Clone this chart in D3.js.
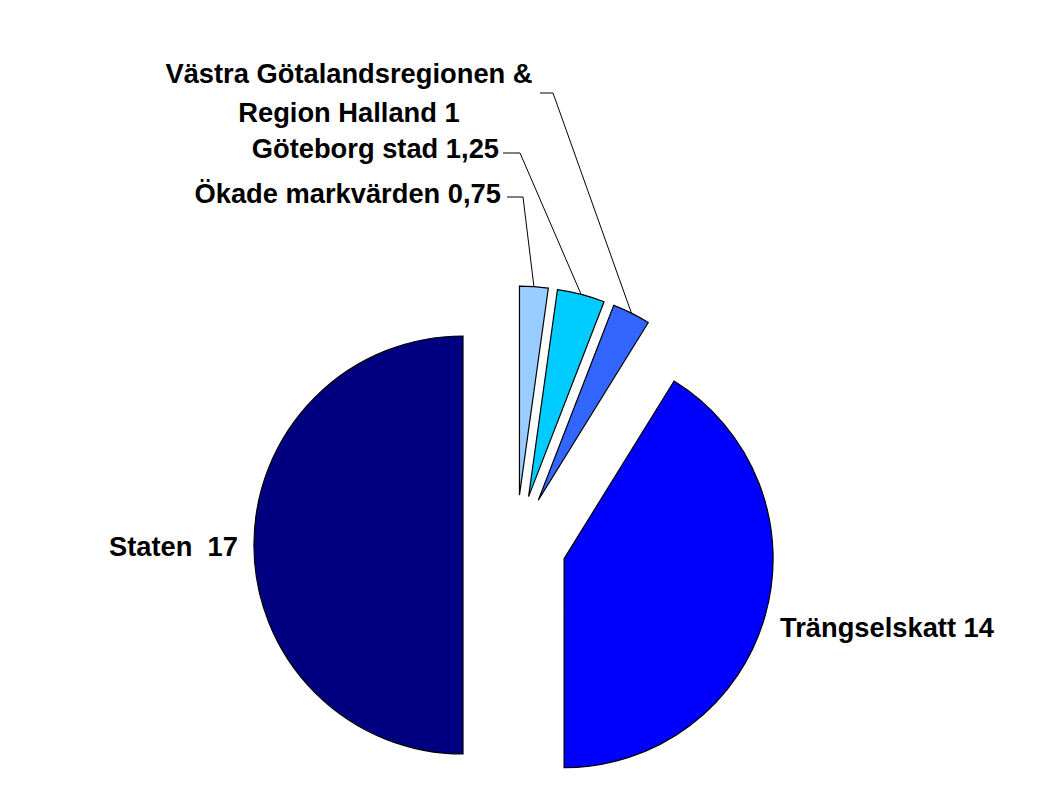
<!DOCTYPE html>
<html>
<head>
<meta charset="utf-8">
<script src="https://cdn.jsdelivr.net/npm/d3@7"></script>
<style>
  html, body { margin: 0; padding: 0; background: #ffffff; }
  svg { display: block; }
  text { font-family: "Liberation Sans", Arial, sans-serif; font-weight: bold; font-size: 27.3px; fill: #000; white-space: pre; }
</style>
</head>
<body>
<svg id="chart" width="1053" height="796"></svg>
<script>
// ---- data ----
const categories = ["Ökade markvärden", "Göteborg stad", "Västra Götalandsregionen & Region Halland", "Trängselskatt", "Staten"];
const values = [0.75, 1.25, 1, 14, 17];
const labelLines = [
  ["Ökade markvärden 0,75"],
  ["Göteborg stad 1,25"],
  ["Västra Götalandsregionen &", "Region Halland 1"],
  ["Trängselskatt 14"],
  ["Staten  17"]
];
const colors = ["#99CCFF", "#00CCFF", "#3366FF", "#0000FF", "#000080"];

// ---- layout ----
const cx = 516, cy = 545, R = 209;
const explode = [50, 50, 50, 50, 53];
const labelPos = [
  { x: 501, y: 203, anchor: "end" },
  { x: 499, y: 158, anchor: "end" },
  { x: 349, y: 83, anchor: "middle", lh: 39 },
  { x: 780, y: 637, anchor: "start" },
  { x: 238, y: 556, anchor: "end" }
];
// leader lines: [start x, elbow x, y]; null = none
const leaders = [
  [507, 523, 197],
  [503, 520, 153],
  [540, 553, 93],
  null,
  null
];

const svg = d3.select("#chart");
const pie = d3.pie().sort(null).startAngle(0).endAngle(2 * Math.PI);
const arcs = pie(values);
const arc = d3.arc().innerRadius(0).outerRadius(R);
const rimArc = d3.arc().innerRadius(R).outerRadius(R);

const g = svg.append("g").attr("transform", `translate(${cx},${cy})`);

function offset(d, i) {
  const mid = (d.startAngle + d.endAngle) / 2;
  return [explode[i] * Math.sin(mid), -explode[i] * Math.cos(mid)];
}

g.selectAll("path.slice")
  .data(arcs)
  .enter()
  .append("path")
  .attr("class", "slice")
  .attr("d", arc)
  .attr("transform", (d, i) => { const o = offset(d, i); return `translate(${o[0]},${o[1]})`; })
  .attr("fill", (d, i) => colors[i])
  .attr("stroke", "#000")
  .attr("stroke-width", 1.2)
  .attr("stroke-linejoin", "miter");

// leader lines
arcs.forEach((d, i) => {
  const L = leaders[i];
  if (!L) return;
  const o = offset(d, i);
  const c = rimArc.centroid(d);
  const px = cx + c[0] + o[0], py = cy + c[1] + o[1];
  svg.append("polyline")
    .attr("points", `${L[0]},${L[2]} ${L[1]},${L[2]} ${px},${py}`)
    .attr("fill", "none")
    .attr("stroke", "#000")
    .attr("stroke-width", 1);
});

// labels
labelLines.forEach((lines, i) => {
  const p = labelPos[i];
  const t = svg.append("text")
    .attr("x", p.x)
    .attr("y", p.y)
    .attr("text-anchor", p.anchor);
  lines.forEach((ln, j) => {
    t.append("tspan")
      .attr("x", p.x)
      .attr("dy", j === 0 ? 0 : p.lh)
      .text(ln);
  });
});
</script>
</body>
</html>
